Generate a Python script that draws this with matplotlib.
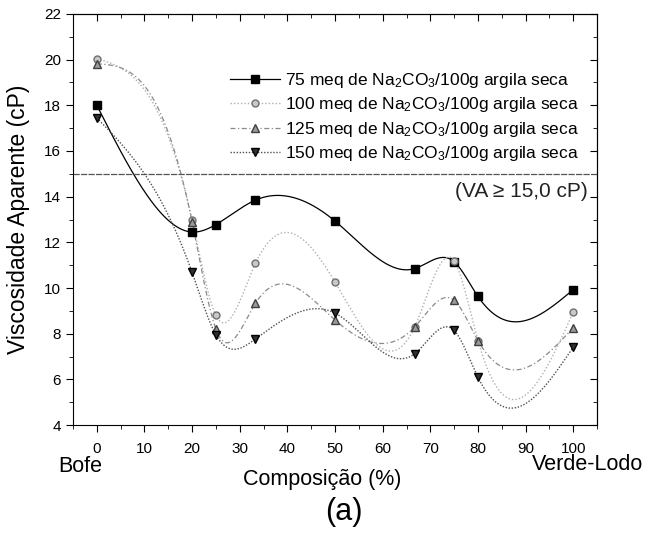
import numpy as np
import matplotlib
matplotlib.use("Agg")
import matplotlib.pyplot as plt
from matplotlib.ticker import MultipleLocator

plt.rcParams['font.family'] = ['Liberation Sans', 'DejaVu Sans']
plt.rcParams['mathtext.default'] = 'regular'

# composição (% verde-lodo)
composicao = [0, 20, 25, 33.3, 50, 66.7, 75, 80, 100]

# viscosidade aparente (cP) por teor de Na2CO3
va_75 = [18.0, 12.45, 12.78, 13.85, 12.93, 10.85, 11.15, 9.63, 9.93]
va_100 = [20.05, 12.97, 8.8, 11.08, 10.26, 8.29, 11.18, 7.7, 8.94]
va_125 = [19.82, 12.9, 8.2, 9.33, 8.6, 8.29, 9.46, 7.7, 8.26]
va_150 = [17.45, 10.68, 7.95, 7.77, 8.9, 7.12, 8.14, 6.09, 7.41]

rotulos = ['75 meq de Na$_2$CO$_3$/100g argila seca',
           '100 meq de Na$_2$CO$_3$/100g argila seca',
           '125 meq de Na$_2$CO$_3$/100g argila seca',
           '150 meq de Na$_2$CO$_3$/100g argila seca']

va_limite = 15.0


def spline_natural(x, y, xs):
    x = np.asarray(x, float)
    y = np.asarray(y, float)
    n = len(x)
    h = np.diff(x)
    A = np.zeros((n, n))
    b = np.zeros(n)
    A[0, 0] = A[-1, -1] = 1
    for i in range(1, n - 1):
        A[i, i - 1] = h[i - 1]
        A[i, i] = 2 * (h[i - 1] + h[i])
        A[i, i + 1] = h[i]
        b[i] = 3 * ((y[i + 1] - y[i]) / h[i] - (y[i] - y[i - 1]) / h[i - 1])
    c = np.linalg.solve(A, b)
    bb = (y[1:] - y[:-1]) / h - h * (2 * c[:-1] + c[1:]) / 3
    d = (c[1:] - c[:-1]) / (3 * h)
    idx = np.clip(np.searchsorted(x, xs) - 1, 0, n - 2)
    dx = xs - x[idx]
    return y[idx] + bb[idx] * dx + c[idx] * dx ** 2 + d[idx] * dx ** 3


fig = plt.figure(figsize=(6.49, 5.38), dpi=100)
ax = fig.add_axes([0.1125, 0.21, 0.8075, 0.764])

xs = np.linspace(0, 100, 600)
estilos = [
    dict(color='black', ls='-', lw=0.9, marker='s', ms=6, mfc='black', mec='black'),
    dict(color='#b0b0b0', ls=(0, (1, 1.5)), lw=1.0, marker='o', ms=5, mfc='#c8c8c8', mec='#707070'),
    dict(color='#8a8a8a', ls=(0, (4, 2, 1, 2)), lw=0.9, marker='^', ms=5.5, mfc='#9a9a9a', mec='#404040'),
    dict(color='#505050', ls=(0, (1, 1.2)), lw=1.0, marker='v', ms=6, mfc='#303030', mec='black'),
]

for serie, rot, st in zip([va_75, va_100, va_125, va_150], rotulos, estilos):
    ax.plot(xs, spline_natural(composicao, serie, xs), color=st['color'], ls=st['ls'], lw=st['lw'])
    ax.plot(composicao, serie, ls='none', marker=st['marker'], ms=st['ms'],
            mfc=st['mfc'], mec=st['mec'], zorder=3)
    ax.plot([], [], color=st['color'], ls=st['ls'], lw=st['lw'], marker=st['marker'],
            ms=st['ms'], mfc=st['mfc'], mec=st['mec'], label=rot)

ax.axhline(va_limite, color='#555555', lw=0.9, ls=(0, (5, 1)))
ax.text(0.982, 0.567, '(VA \u2265 15,0 cP)', transform=ax.transAxes, ha='right', va='center',
        fontsize=15, color='#222222')

ax.set_xlim(-5, 105)
ax.set_ylim(4, 22)
ax.xaxis.set_major_locator(MultipleLocator(10))
ax.xaxis.set_minor_locator(MultipleLocator(5))
ax.yaxis.set_major_locator(MultipleLocator(2))
ax.yaxis.set_minor_locator(MultipleLocator(1))
ax.tick_params(which='both', direction='out', labelsize=11)
ax.tick_params(axis='x', which='major', pad=7)
ax.tick_params(which='major', length=5)
ax.tick_params(which='minor', length=3)

topo = ax.secondary_xaxis('top')
topo.xaxis.set_major_locator(MultipleLocator(10))
topo.xaxis.set_minor_locator(MultipleLocator(5))
topo.tick_params(which='both', direction='in', labeltop=False)
topo.tick_params(which='major', length=5)
topo.tick_params(which='minor', length=3)
direita = ax.secondary_yaxis('right')
direita.yaxis.set_major_locator(MultipleLocator(2))
direita.yaxis.set_minor_locator(MultipleLocator(1))
direita.tick_params(which='both', direction='in', labelright=False)
direita.tick_params(which='major', length=5)
direita.tick_params(which='minor', length=3)

ax.set_ylabel('Viscosidade Aparente (cP)', fontsize=16.5, labelpad=10)
fig.text(322 / 649, 1 - 480 / 538, 'Composição (%)', ha='center', va='center', fontsize=15.5)
fig.text(80 / 649, 1 - 467 / 538, 'Bofe', ha='center', va='center', fontsize=15.5)
fig.text(588 / 649, 1 - 465 / 538, 'Verde-Lodo', ha='center', va='center', fontsize=15.5)
fig.text(344 / 649, 1 - 512 / 538, '(a)', ha='center', va='center', fontsize=22)

ax.legend(loc='upper right', bbox_to_anchor=(0.965, 0.862), frameon=False, fontsize=12.5,
          handlelength=2.9, handletextpad=0.25, labelspacing=0.32, borderpad=0, borderaxespad=0)

fig.savefig('out.png', dpi=100)
